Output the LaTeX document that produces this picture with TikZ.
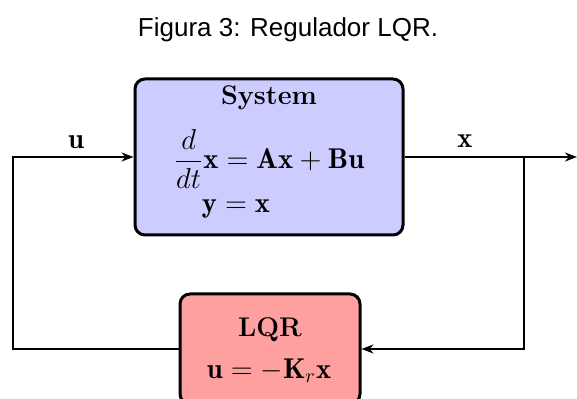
\documentclass[tikz,border=0pt]{standalone}
\usepackage{fontspec}
\newfontfamily\captionfont{Liberation Sans}
\usetikzlibrary{arrows.meta}

\definecolor{sysblue}{RGB}{204,204,255}
\definecolor{lqrred}{RGB}{255,160,160}

\tikzset{
  block/.style={draw, line width=1.5pt, rounded corners=5pt, inner sep=0pt},
  conn/.style={line width=1.4pt},
  arr/.style={conn, -{Stealth[length=6pt,width=4.5pt]}},
  boxtext/.style={font=\fontsize{13.5}{16}\selectfont, inner sep=0pt},
  mathtext/.style={font=\fontsize{14.3}{17}\selectfont, inner sep=0pt},
}

\begin{document}
\begin{tikzpicture}[x=0.5pt, y=-0.5pt]
    \useasboundingbox (0,0) rectangle (577,399);
    % caption
    \node [font=\captionfont\fontsize{13}{15}\selectfont, anchor=base] (title) at (288,37) {Figura 3: Regulador LQR.};
    % plant
    \node [block, fill=sysblue, minimum width=134pt, minimum height=78pt] (sys) at (269,157) {};
    \node [boxtext] (systitle) at (269,98) {\textbf{System}};
    \node [mathtext] (sysdyn) at (269,159) {$\displaystyle\frac{d}{dt}\mathbf{x}=\mathbf{A}\mathbf{x}+\mathbf{B}\mathbf{u}$};
    \node [mathtext] (sysout) at (236,209) {$\mathbf{y}=\mathbf{x}$};
    % controller
    \node [block, fill=lqrred, minimum width=90pt, minimum height=55pt] (lqr) at (270,349) {};
    \node [boxtext] (lqrtitle) at (270,330) {\textbf{LQR}};
    \node [mathtext] (lqrlaw) at (269,371) {$\mathbf{u} = -\mathbf{K}_r\mathbf{x}$};
    % signals
    \coordinate (loopleft) at (13,157);
    \coordinate (branch) at (524,157);
    \coordinate (xout) at (577,157);
    \draw [arr] (lqr.west) -| (loopleft) -- (sys.west);
    \draw [arr] (sys.east) -- (xout);
    \draw [arr] (branch) |- (lqr.east);
    \node [mathtext] (ulabel) at (76,142) {$\mathbf{u}$};
    \node [mathtext] (xlabel) at (465,141) {$\mathbf{x}$};
\end{tikzpicture}
\end{document}
